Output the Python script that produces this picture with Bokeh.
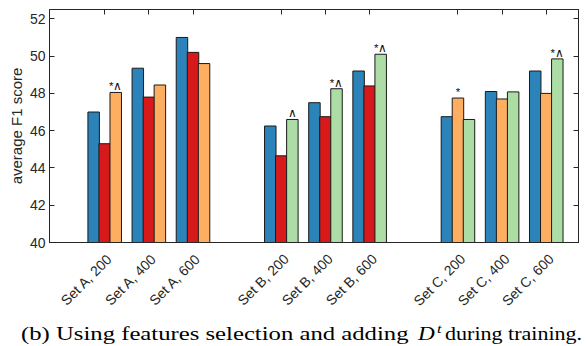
import numpy as np
from bokeh.plotting import figure
from bokeh.layouts import column
from bokeh.models import (ColumnDataSource, FixedTicker, LinearAxis, Range1d, Div,
                          CustomLabelingPolicy)
from bokeh.embed import file_html
from bokeh.resources import INLINE
from bokeh.core.properties import value

# ---- data ----
categories = ["Set A, 200", "Set A, 400", "Set A, 600",
              "Set B, 200", "Set B, 400", "Set B, 600",
              "Set C, 200", "Set C, 400", "Set C, 600"]
cat_pos = [1, 2, 3, 5, 6, 7, 9, 10, 11]
y_ticks = [40, 42, 44, 46, 48, 50, 52]

first_vals = [47.0, 49.35, 51.0, 46.25, 47.5, 49.2, 46.75, 48.1, 49.2]
second_vals = [45.3, 47.8, 50.2, 44.65, 46.75, 48.4, 47.75, 47.7, 48.0]
third_vals = [48.05, 48.45, 49.6, 46.6, 48.25, 50.1, 46.6, 48.08, 49.85]

first_kind = ["blue"] * 9
second_kind = ["red"] * 6 + ["orange"] * 3
third_kind = ["orange"] * 3 + ["green"] * 6

second_marks = ["", "", "", "", "", "", "*", "", ""]
third_marks = ["*\u2227", "", "", "\u2227", "*\u2227", "*\u2227", "", "", "*\u2227"]

caption_parts = ["(b) Using features selection and adding", "D", "t", "during training."]

palette = {"blue": "#2b83ba", "red": "#d7191c", "orange": "#fdae61", "green": "#abdda4"}

AX = "#262626"

p = figure(width=586, height=320,
           x_range=Range1d(-0.25, 11.73), y_range=Range1d(40, 52.5),
           output_backend="svg", toolbar_location=None,
           min_border_left=49, min_border_right=8, min_border_top=9, min_border_bottom=78)
p.xgrid.visible = False
p.ygrid.visible = False
p.outline_line_color = AX
p.outline_line_width = 1
p.background_fill_color = "white"
p.border_fill_color = "white"

pos = np.array(cat_pos, dtype=float)
bw = 0.26
offsets = [-0.25, 0.0, 0.25]
for off, vals, kinds in [(offsets[0], first_vals, first_kind),
                         (offsets[1], second_vals, second_kind),
                         (offsets[2], third_vals, third_kind)]:
    src = ColumnDataSource(dict(x=pos + off, top=vals,
                                color=[palette[k] for k in kinds]))
    p.vbar(x="x", top="top", bottom=40, width=bw, source=src,
           fill_color="color", line_color="#1a1a1a", line_width=1)

for off, vals, marks in [(offsets[1], second_vals, second_marks),
                         (offsets[2], third_vals, third_marks)]:
    src = ColumnDataSource(dict(x=pos + off, y=vals, t=marks))
    p.text(x="x", y="y", text="t", source=src, text_align="center",
           text_baseline="bottom", y_offset=0,
           text_font=value("Liberation Sans"), text_font_size="11.5px",
           text_color="#111111")

# bottom axis: rotated category labels, anchored slightly right of the categories
label_shift = 0.11
label_pos = [float(c) + label_shift for c in cat_pos]
ax = p.xaxis[0]
ax.ticker = FixedTicker(ticks=label_pos)
ax.major_label_overrides = {c: n for c, n in zip(label_pos, categories)}
ax.major_label_orientation = np.pi / 4
ax.major_label_text_font = "Liberation Sans"
ax.major_label_text_font_size = "14px"
ax.major_label_text_color = AX
ax.major_label_standoff = 14
ax.major_tick_in = 0
ax.major_tick_out = 0
ax.minor_tick_in = 0
ax.minor_tick_out = 0
ax.axis_line_color = AX
ax.major_tick_line_color = None

ay = p.yaxis[0]
ay.ticker = FixedTicker(ticks=y_ticks)
ay.major_label_text_font = "Liberation Sans"
ay.major_label_text_font_size = "14px"
ay.major_label_text_color = AX
ay.major_tick_in = 5
ay.major_tick_out = 0
ay.minor_tick_in = 0
ay.minor_tick_out = 0
ay.axis_line_color = AX
ay.major_tick_line_color = AX
ay.major_label_standoff = 4
ay.axis_label = "average F1 score"
ay.axis_label_text_font = "Liberation Sans"
ay.axis_label_text_font_size = "15px"
ay.axis_label_text_font_style = "normal"
ay.axis_label_text_color = AX
ay.axis_label_standoff = 2

no_labels = CustomLabelingPolicy(code="""
const all = [...indices]
for (const i of all) indices.unset(i)
return indices
""")

for side, tick in [("right", y_ticks), ("above", cat_pos)]:
    a = LinearAxis(ticker=FixedTicker(ticks=tick))
    a.major_label_policy = no_labels
    a.major_label_text_font_size = "0px"
    a.major_label_standoff = 0
    a.major_tick_in = 5
    a.major_tick_out = 0
    a.minor_tick_in = 0
    a.minor_tick_out = 0
    a.axis_line_color = AX
    a.major_tick_line_color = AX
    p.add_layout(a, side)

# caption (HTML, horizontally stretched to match the reference)
def span(txt, left, top, size, scale, italic=False):
    st = ("position:absolute; left:%.1fpx; top:%.1fpx; font-size:%dpx; line-height:1;"
          " white-space:nowrap; display:inline-block; transform:scaleX(%.2f);"
          " transform-origin:left top;%s") % (left, top, size, scale,
                                              " font-style:italic;" if italic else "")
    return '<span style="%s">%s</span>' % (st, txt)

cap_html = ('<div style="position:relative; width:586px; height:26px; '
            "font-family:'Liberation Serif', 'Times New Roman', serif; "
            'font-weight:normal; color:black;">'
            + span(caption_parts[0], 20.7, 4.1, 19, 1.30)
            + span(caption_parts[1], 418.0, 4.1, 19, 1.22, italic=True)
            + span(caption_parts[2], 436.5, 2.1, 13, 1.25, italic=True)
            + span(caption_parts[3], 445.0, 4.1, 19, 1.16)
            + "</div>")
cap = Div(text=cap_html, width=586, height=26, margin=0)

layout = column(p, cap, spacing=0)
open("out.html", "w").write(file_html(layout, INLINE))
